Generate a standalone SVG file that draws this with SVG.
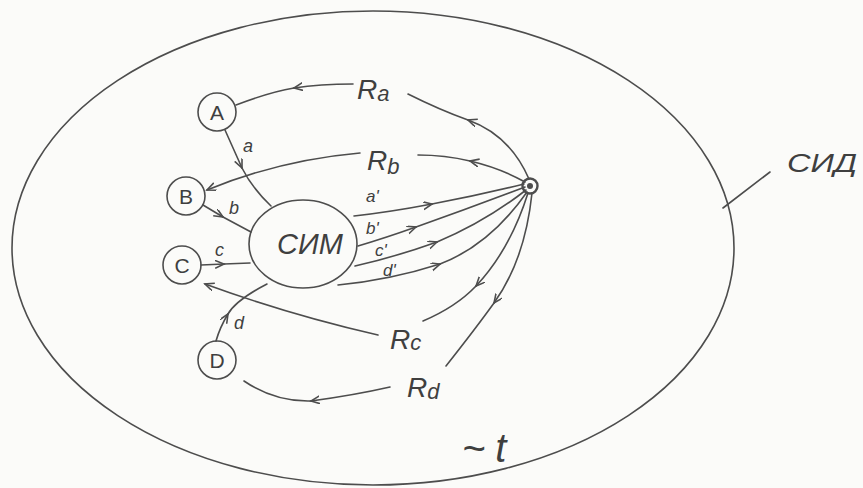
<svg xmlns="http://www.w3.org/2000/svg" width="863" height="488" viewBox="0 0 863 488">
  <defs>
    <style>
      .ln{fill:none;stroke:#4d4d4d;stroke-width:1.6;stroke-linecap:round}
      .node{fill:none;stroke:#4d4d4d;stroke-width:1.6}
      .t{font-family:"Liberation Sans",Arial,sans-serif;fill:#3f3f3f;font-style:italic}
      .nt{font-family:"Liberation Sans",Arial,sans-serif;fill:#3f3f3f;font-size:21px;text-anchor:middle}
    </style>
    <marker id="arr" markerWidth="12" markerHeight="10" refX="9" refY="4" orient="auto" markerUnits="userSpaceOnUse">
      <path d="M0,0 L9,4 L0,8" fill="none" stroke="#4d4d4d" stroke-width="1.6"/>
    </marker>
  </defs>
  <rect width="863" height="488" fill="#fbfbf9"/>

  <g id="node-SID">
    <ellipse class="node" cx="373" cy="248" rx="361" ry="237"/>
    <path class="ln" d="M723,208 L770,172"/>
    <text class="t" x="787" y="172" font-size="25" textLength="70" lengthAdjust="spacingAndGlyphs">СИД</text>
  </g>

  <g id="node-source">
    <circle cx="530" cy="186" r="7.5" fill="#fbfbf9" stroke="#4d4d4d" stroke-width="2.4"/>
    <circle cx="530" cy="186" r="3" fill="#4d4d4d"/>
  </g>

  <g id="node-SIM">
    <ellipse class="node" cx="303" cy="244" rx="54" ry="44" fill="#fbfbf9"/>
    <text class="t" x="277" y="254" font-size="29">СИМ</text>
  </g>

  <g id="node-A">
    <circle class="node" cx="217" cy="112" r="19"/>
    <text class="nt" x="217" y="120">A</text>
  </g>
  <g id="node-B">
    <circle class="node" cx="186" cy="196" r="19"/>
    <text class="nt" x="186" y="204">B</text>
  </g>
  <g id="node-C">
    <circle class="node" cx="182" cy="265" r="19"/>
    <text class="nt" x="182" y="273">C</text>
  </g>
  <g id="node-D">
    <circle class="node" cx="217" cy="360" r="19"/>
    <text class="nt" x="217" y="368">D</text>
  </g>

  <g id="connectors">
    <!-- Ra -->
    <path class="ln" d="M529,179 Q510,135 468,120" marker-end="url(#arr)"/>
    <path class="ln" d="M468,120 Q440,110 408,94"/>
    <path class="ln" d="M353,84 Q320,84 294,88" marker-end="url(#arr)"/>
    <path class="ln" d="M294,88 Q270,92 236,105"/>
    <text class="t" x="357" y="99" font-size="28">R<tspan font-size="22" dy="2">a</tspan></text>

    <!-- Rb -->
    <path class="ln" d="M525,182 Q500,168 470,161" marker-end="url(#arr)"/>
    <path class="ln" d="M470,161 Q445,155 418,155"/>
    <path class="ln" d="M360,153 Q280,160 207,190" marker-end="url(#arr)"/>
    <text class="t" x="367" y="170" font-size="28">R<tspan font-size="22" dy="4">b</tspan></text>

    <!-- Rc -->
    <path class="ln" d="M528,193 Q510,250 476,286" marker-end="url(#arr)"/>
    <path class="ln" d="M476,286 Q456,307 423,321"/>
    <path class="ln" d="M378,335 Q290,315 205,284" marker-end="url(#arr)"/>
    <text class="t" x="390" y="349" font-size="28">R<tspan font-size="22" dy="1">c</tspan></text>

    <!-- Rd -->
    <path class="ln" d="M532,193 Q525,260 494,303" marker-end="url(#arr)"/>
    <path class="ln" d="M494,303 Q476,328 446,366"/>
    <path class="ln" d="M390,387 Q355,395 311,401" marker-end="url(#arr)"/>
    <path class="ln" d="M311,401 Q275,402 244,381"/>
    <text class="t" x="407" y="397" font-size="28">R<tspan font-size="22" dy="2">d</tspan></text>

    <!-- a, b, c, d into SIM -->
    <path class="ln" d="M225,130 Q234,150 242,168" marker-end="url(#arr)"/>
    <path class="ln" d="M242,168 Q252,188 271,206"/>
    <text class="t" x="243" y="152" font-size="18">a</text>

    <path class="ln" d="M203,205 L223,217" marker-end="url(#arr)"/>
    <path class="ln" d="M223,217 L251,232"/>
    <text class="t" x="229" y="214" font-size="18">b</text>

    <path class="ln" d="M201,265 L224,264" marker-end="url(#arr)"/>
    <path class="ln" d="M224,264 L250,263"/>
    <text class="t" x="215" y="256" font-size="18">c</text>

    <path class="ln" d="M216,341 Q220,327 228,314" marker-end="url(#arr)"/>
    <path class="ln" d="M228,314 Q236,300 267,284"/>
    <text class="t" x="234" y="329" font-size="18">d</text>

    <!-- a', b', c', d' to source -->
    <path class="ln" d="M354,216 Q390,212 432,204" marker-end="url(#arr)"/>
    <path class="ln" d="M432,204 Q480,195 524,184"/>
    <text class="t" x="366" y="202" font-size="17">a'</text>

    <path class="ln" d="M358,246 Q385,238 416,227" marker-end="url(#arr)"/>
    <path class="ln" d="M416,227 Q470,208 525,187"/>
    <text class="t" x="366" y="234" font-size="17">b'</text>

    <path class="ln" d="M355,266 Q395,257 437,242" marker-end="url(#arr)"/>
    <path class="ln" d="M437,242 Q485,222 526,190"/>
    <text class="t" x="375" y="256" font-size="17">c'</text>

    <path class="ln" d="M338,285 Q390,280 440,264" marker-end="url(#arr)"/>
    <path class="ln" d="M440,264 Q490,245 527,192"/>
    <text class="t" x="383" y="276" font-size="17">d'</text>
  </g>

  <text class="t" x="462" y="462" font-size="40" letter-spacing="10">~t</text>
</svg>
